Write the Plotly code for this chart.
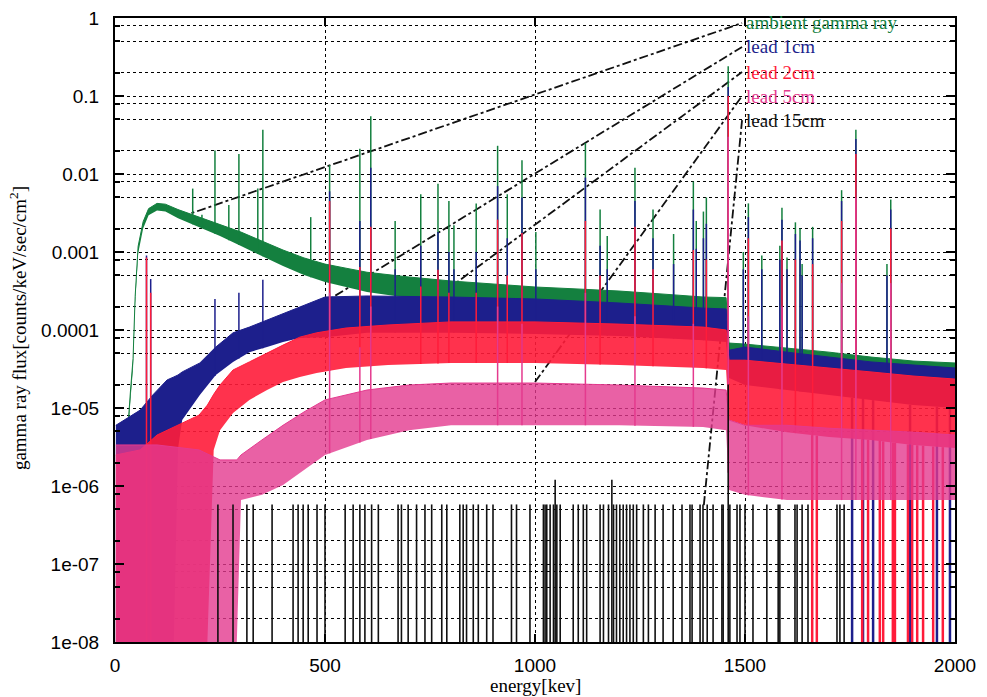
import numpy as np
import plotly.graph_objects as go

FLOOR = 1e-8

# ---------------- data ----------------
# ambient gamma ray: continuum band (upper / lower envelope)
green_E  = [28, 31, 37, 43, 48, 55, 67, 80, 100, 120, 150, 200, 250, 300, 350, 400, 450, 500, 550, 600,
            700, 800, 900, 1000, 1100, 1200, 1300, 1400, 1455, 1462, 1500, 1600, 1700, 1800, 1900, 2000]
green_hi = [1.3e-6, 6e-6, 1.7e-5, 4.3e-5, 2.7e-4, 1.18e-3, 2.45e-3, 3.6e-3, 4.2e-3, 4.1e-3, 3.5e-3, 2.8e-3,
            2.25e-3, 1.80e-3, 1.38e-3, 1.06e-3, 8.4e-4, 7.0e-4, 6.2e-4, 5.5e-4, 4.78e-4, 4.25e-4, 3.89e-4,
            3.56e-4, 3.36e-4, 3.16e-4, 2.9e-4, 2.65e-4, 2.6e-4, 6.8e-5, 6.6e-5, 5.9e-5, 5.2e-5, 4.5e-5, 4.0e-5, 3.78e-5]
green_lo = [1.0e-6, 4.5e-6, 1.3e-5, 3.3e-5, 2.2e-4, 9.5e-4, 2.0e-3, 2.95e-3, 3.4e-3, 3.3e-3, 2.7e-3, 2.1e-3,
            1.6e-3, 1.19e-3, 8.9e-4, 6.6e-4, 5.07e-4, 4.12e-4, 3.56e-4, 3.07e-4, 2.57e-4, 2.29e-4, 2.09e-4,
            1.97e-4, 1.86e-4, 1.75e-4, 1.65e-4, 1.56e-4, 1.51e-4, 3.9e-5, 3.9e-5, 3.45e-5, 3.07e-5, 2.65e-5, 2.43e-5, 2.29e-5]

# lead 1cm
blue_E  = [2, 60, 90, 124, 140, 150, 160, 202, 240, 281, 320, 362, 400, 440, 500, 600, 800, 1000, 1200,
           1400, 1455, 1462, 1500, 1600, 1700, 1800, 1900, 2000]
blue_hi = [6.0e-6, 9.4e-6, 1.47e-5, 2.29e-5, 2.5e-5, 2.65e-5, 2.9e-5, 3.78e-5, 6.05e-5, 9.2e-5, 1.09e-4,
           1.34e-4, 1.65e-4, 1.97e-4, 2.65e-4, 2.73e-4, 2.65e-4, 2.5e-4, 2.22e-4, 1.91e-4, 1.86e-4,
           5.5e-5, 6.05e-5, 5.2e-5, 4.5e-5, 3.9e-5, 3.56e-5, 3.26e-5]
blue_lo = [FLOOR, FLOOR, FLOOR, FLOOR, FLOOR, 3e-6, 7e-6, 1.47e-5, 2.65e-5, 3.9e-5, 5.2e-5, 6.05e-5, 7.0e-5,
           7.9e-5, 8.1e-5, 9.2e-5, 9.2e-5, 8.9e-5, 8.4e-5, 7.4e-5, 7.0e-5, 2.43e-5, 1.97e-5, 1.7e-5,
           1.47e-5, 1.27e-5, 1.09e-5, 1.0e-5]

# lead 2cm
red_E  = [2, 60, 100, 150, 200, 220, 235, 250, 281, 320, 362, 400, 440, 480, 550, 650, 800, 1000, 1200,
          1400, 1455, 1462, 1500, 1600, 1700, 1800, 1900, 2000]
red_hi = [2.5e-6, 2.9e-6, 4.5e-6, 6.0e-6, 8.1e-6, 1.09e-5, 1.5e-5, 1.97e-5, 3.07e-5, 3.9e-5, 5.1e-5, 6.4e-5,
          8.1e-5, 9.2e-5, 1.06e-4, 1.16e-4, 1.27e-4, 1.27e-4, 1.19e-4, 1.09e-4, 1.0e-4, 4.1e-5, 4.1e-5,
          3.67e-5, 3.26e-5, 2.9e-5, 2.57e-5, 2.35e-5]
red_lo = [FLOOR, FLOOR, FLOOR, FLOOR, FLOOR, FLOOR, 2.9e-6, 5.2e-6, 8.6e-6, 1.27e-5, 1.7e-5, 2.15e-5, 2.5e-5,
          2.8e-5, 3.26e-5, 3.56e-5, 3.78e-5, 3.78e-5, 3.56e-5, 3.26e-5, 3.07e-5, 7.0e-6, 6.0e-6, 4.9e-6,
          4.25e-6, 3.9e-6, 3.36e-6, 3.07e-6]

# lead 5cm
pink_E  = [2, 100, 200, 250, 290, 300, 350, 400, 450, 500, 600, 700, 800, 1000, 1200, 1400, 1455, 1462,
           1500, 1600, 1700, 1800, 1900, 2000]
pink_hi = [3.36e-6, 3.36e-6, 2.9e-6, 2.16e-6, 2.16e-6, 2.5e-6, 3.9e-6, 6.0e-6, 8.9e-6, 1.27e-5, 1.7e-5,
           1.97e-5, 2.09e-5, 2.09e-5, 1.97e-5, 1.8e-5, 1.7e-5, 7.0e-6, 6.0e-6, 6.0e-6, 5.5e-6, 5.2e-6,
           4.9e-6, 4.5e-6]
pink_lo = [FLOOR, FLOOR, FLOOR, FLOOR, FLOOR, 6.6e-7, 7.7e-7, 1.03e-6, 1.6e-6, 2.5e-6, 3.9e-6, 5.2e-6,
           6.0e-6, 6.0e-6, 6.0e-6, 5.7e-6, 5.2e-6, 8.9e-7, 7.7e-7, 6.6e-7, 6.6e-7, 6.6e-7, 6.6e-7, 6.6e-7]

# line peaks (energy keV, peak flux)
green_pk_E = [185, 207, 238, 271, 295, 340, 352, 466, 511, 583, 609, 667, 728, 769, 795, 807, 860, 911, 934,
              969, 1002, 1120, 1155, 1172, 1238, 1281, 1330, 1377, 1384, 1401, 1408, 1460, 1496, 1508, 1540,
              1583, 1588, 1600, 1620, 1631, 1636, 1661, 1730, 1764, 1838, 1847]
green_pk_v = [0.0065, 0.003, 0.02, 0.004, 0.018, 0.0065, 0.037, 0.0028, 0.013, 0.021, 0.055, 0.0025, 0.0055,
              0.0075, 0.0045, 0.0022, 0.0042, 0.023, 0.0055, 0.015, 0.0018, 0.025, 0.0035, 0.0016, 0.012,
              0.0035, 0.0017, 0.008, 0.0025, 0.0033, 0.005, 0.24, 0.001, 0.0042, 0.0009, 0.0012, 0.0037,
              0.00085, 0.0024, 0.002, 0.0007, 0.0021, 0.0062, 0.037, 0.0007, 0.0047]
blue_pk_E = [75, 85, 238, 295, 352, 511, 583, 609, 667, 728, 769, 795, 807, 860, 911, 934, 969, 1002, 1120,
             1155, 1172, 1238, 1281, 1330, 1377, 1384, 1401, 1408, 1460, 1496, 1508, 1540, 1583, 1588, 1600,
             1620, 1631, 1636, 1661, 1730, 1764, 1838, 1847]
blue_pk_v = [9e-4, 4.5e-4, 2.5e-4, 3e-4, 4.4e-4, 6e-3, 2.5e-3, 0.012, 6e-4, 1.2e-3, 1.8e-3, 1e-3, 6e-4, 1e-3,
             7e-3, 1.5e-3, 5e-3, 6e-4, 9e-3, 1.2e-3, 6e-4, 4.5e-3, 1.5e-3, 7e-4, 3.5e-3, 1.1e-3, 1.5e-3,
             2.3e-3, 0.13, 6e-4, 2.8e-3, 6e-4, 8e-4, 2.6e-3, 6e-4, 1.7e-3, 1.4e-3, 5e-4, 1.5e-3, 4.5e-3,
             0.028, 5e-4, 3.5e-3]
red_pk_E = [75, 85, 511, 583, 609, 728, 769, 795, 860, 911, 934, 969, 1120, 1155, 1238, 1281, 1377, 1408,
            1460, 1508, 1588, 1620, 1661, 1730, 1764, 1847]
red_pk_v = [8.5e-4, 3e-4, 4.5e-3, 6.4e-4, 2.1e-3, 3.6e-4, 5.9e-4, 3e-4, 3e-4, 2.6e-3, 5e-4, 1.75e-3, 2.5e-3,
            5e-4, 2.1e-3, 6e-4, 1.06e-3, 8e-4, 0.1, 1.5e-3, 1.4e-3, 8e-4, 7e-4, 2.5e-3, 0.018, 2e-3]
pink_pk_E = [511, 583, 609, 911, 969, 1120, 1238, 1377, 1460, 1508, 1588, 1730, 1764, 1847]
pink_pk_v = [3e-4, 6e-5, 2e-4, 2e-4, 1.2e-4, 3e-4, 1.5e-4, 1.2e-4, 0.03, 1.5e-4, 2e-4, 4e-4, 5e-3, 4e-4]

# lead 15cm: single-count bins
black_E = [245, 281, 314, 329, 374, 424, 436, 448, 460, 481, 500, 548, 567, 583, 595, 611, 627, 674, 682,
           698, 718, 738, 754, 778, 790, 821, 829, 837, 853, 865, 885, 900, 944, 956, 988, 1020, 1024, 1028,
           1036, 1044, 1048, 1052, 1060, 1091, 1103, 1115, 1123, 1155, 1163, 1175, 1183, 1187, 1194, 1202,
           1210, 1218, 1226, 1234, 1242, 1258, 1270, 1286, 1305, 1329, 1350, 1369, 1374, 1393, 1400, 1410,
           1424, 1445, 1448, 1460, 1464, 1481, 1488, 1500, 1519, 1552, 1579, 1583, 1619, 1624, 1636, 1650,
           1719, 1726, 1736]
black_v = [5.8e-7] * 10 + [5.8e-7] * 30 + [1.2e-6] + [5.8e-7] * 9 + [1.2e-6] + [5.8e-7] * 22 + [2e-5] + [5.8e-7] * 15

# bins that drop to zero counts (high-energy end)
red_dip_E = [1660, 1671, 1779, 1793, 1821, 1829, 1852, 1857, 1888, 1898, 1910, 1924, 1948, 1971]
blue_dip_E = [1755, 1781, 1805, 1893, 1957, 1988]

# legend
names = ["ambient gamma ray", "lead 1cm", "lead 2cm", "lead 5cm", "lead 15cm"]
colors = ["#14803f", "#1d1f8c", "#ff1c3a", "#e43a8e", "#111111"]
key_E = 1493
key_v = [0.863, 0.425, 0.203, 0.1, 0.049]
lead_from_E = [155, 488, 686, 1000, 1402]
lead_from_v = [2.8e-3, 2.09e-4, 1.27e-4, 2.15e-5, 5.7e-7]

# ---------------- figure ----------------
fig = go.Figure()

# leader lines (drawn behind the data)
for i in range(5):
    fig.add_trace(go.Scatter(x=[lead_from_E[i], key_E], y=[lead_from_v[i], key_v[i]], mode="lines",
                             line=dict(color="#111", width=1.8, dash="dashdot"), hoverinfo="skip"))


def band(E, hi, lo, color, alpha):
    fig.add_trace(go.Scatter(x=E, y=lo, mode="lines", line=dict(width=0, color=color), hoverinfo="skip"))
    r, g, b = int(color[1:3], 16), int(color[3:5], 16), int(color[5:7], 16)
    fig.add_trace(go.Scatter(x=E, y=hi, mode="lines", fill="tonexty",
                             fillcolor=f"rgba({r},{g},{b},{alpha})",
                             line=dict(width=1, color=color), hoverinfo="skip"))


def spikes(pE, pv, E, lo, color, width=1.5):
    base = 10 ** np.interp(pE, E, np.log10(lo))
    xs, ys = [], []
    for e, t, b0 in zip(pE, pv, base):
        xs += [e, e, None]
        ys += [b0, t, None]
    fig.add_trace(go.Scatter(x=xs, y=ys, mode="lines", line=dict(color=color, width=width), hoverinfo="skip"))


def dips(dE, E, lo, color):
    top = 10 ** np.interp(dE, E, np.log10(lo))
    xs, ys = [], []
    for e, t in zip(dE, top):
        xs += [e, e, None]
        ys += [FLOOR, t, None]
    fig.add_trace(go.Scatter(x=xs, y=ys, mode="lines", line=dict(color=color, width=2.5),
                             hoverinfo="skip"))


band(green_E, green_hi, green_lo, colors[0], 1.0)
spikes(green_pk_E, green_pk_v, green_E, green_lo, colors[0])
band(blue_E, blue_hi, blue_lo, colors[1], 1.0)
spikes(blue_pk_E, blue_pk_v, blue_E, blue_lo, colors[1])
dips(blue_dip_E, blue_E, blue_lo, colors[1])
band(red_E, red_hi, red_lo, colors[2], 0.9)
spikes(red_pk_E, red_pk_v, red_E, red_lo, colors[2])
dips(red_dip_E, red_E, red_lo, colors[2])
band(pink_E, pink_hi, pink_lo, colors[3], 0.8)
spikes(pink_pk_E, pink_pk_v, pink_E, pink_lo, colors[3])

bx, by = [], []
for e, v in zip(black_E, black_v):
    bx += [e, e, None]
    by += [FLOOR, v, None]
fig.add_trace(go.Scatter(x=bx, y=by, mode="lines", line=dict(color=colors[4], width=1.6), hoverinfo="skip"))

for i in range(5):
    fig.add_annotation(x=key_E + 4, y=np.log10(key_v[i]), text=names[i], showarrow=False,
                       xanchor="left", yanchor="middle",
                       font=dict(family="Liberation Serif", size=19, color=colors[i]))

major = [10.0 ** -k for k in range(0, 9)]
major_txt = ["1", "0.1", "0.01", "0.001", "0.0001", "1e-05", "1e-06", "1e-07", "1e-08"]
minor_vals = [m * 10.0 ** -k for k in range(1, 9) for m in (2, 5, 8)]

fig.update_layout(
    width=987, height=697, showlegend=False,
    margin=dict(l=115, r=32, t=18, b=55, autoexpand=False),
    paper_bgcolor="white", plot_bgcolor="white",
    font=dict(family="Liberation Sans", size=19, color="black"),
    xaxis=dict(range=[0, 2000], tickvals=[0, 500, 1000, 1500, 2000], ticks="inside", ticklen=8,
               tickwidth=1.5, tickcolor="black", mirror="allticks", showline=True, linecolor="black",
               linewidth=2, showgrid=True, gridcolor="black", griddash="dot", gridwidth=1.2,
               zeroline=False, ticklabelstandoff=5, automargin=False, ticklabeloverflow="allow"),
    yaxis=dict(type="log", range=[-8, 0], tickvals=major, ticktext=major_txt, ticks="inside", ticklen=9,
               tickwidth=1.5, tickcolor="black", mirror="allticks", showline=True, linecolor="black",
               linewidth=2, showgrid=True, gridcolor="black", griddash="dot", gridwidth=1.2,
               zeroline=False, ticklabelstandoff=10, automargin=False, ticklabeloverflow="allow",
               minor=dict(tickmode="array", tickvals=minor_vals, ticks="inside", ticklen=5,
                          tickcolor="black", showgrid=True, gridcolor="black", griddash="dot",
                          gridwidth=1.2)),
)

fig.add_annotation(x=0.5, y=-0.069, xref="paper", yref="paper", text="energy[kev]", showarrow=False,
                   xanchor="center", yanchor="middle",
                   font=dict(family="Liberation Serif", size=19, color="black"))
fig.add_annotation(x=-0.1155, y=0.503, xref="paper", yref="paper",
                   text="gamma ray flux[counts/keV/sec/cm<sup>2</sup>]", showarrow=False, textangle=-90,
                   xanchor="center", yanchor="middle",
                   font=dict(family="Liberation Serif", size=19, color="black"))

# remove the page's default 8px body margin so the figure fills the window exactly
fig.write_html("out.html", config={"displayModeBar": False},
               post_script="document.body.style.margin='0px';document.body.style.overflow='hidden';")
